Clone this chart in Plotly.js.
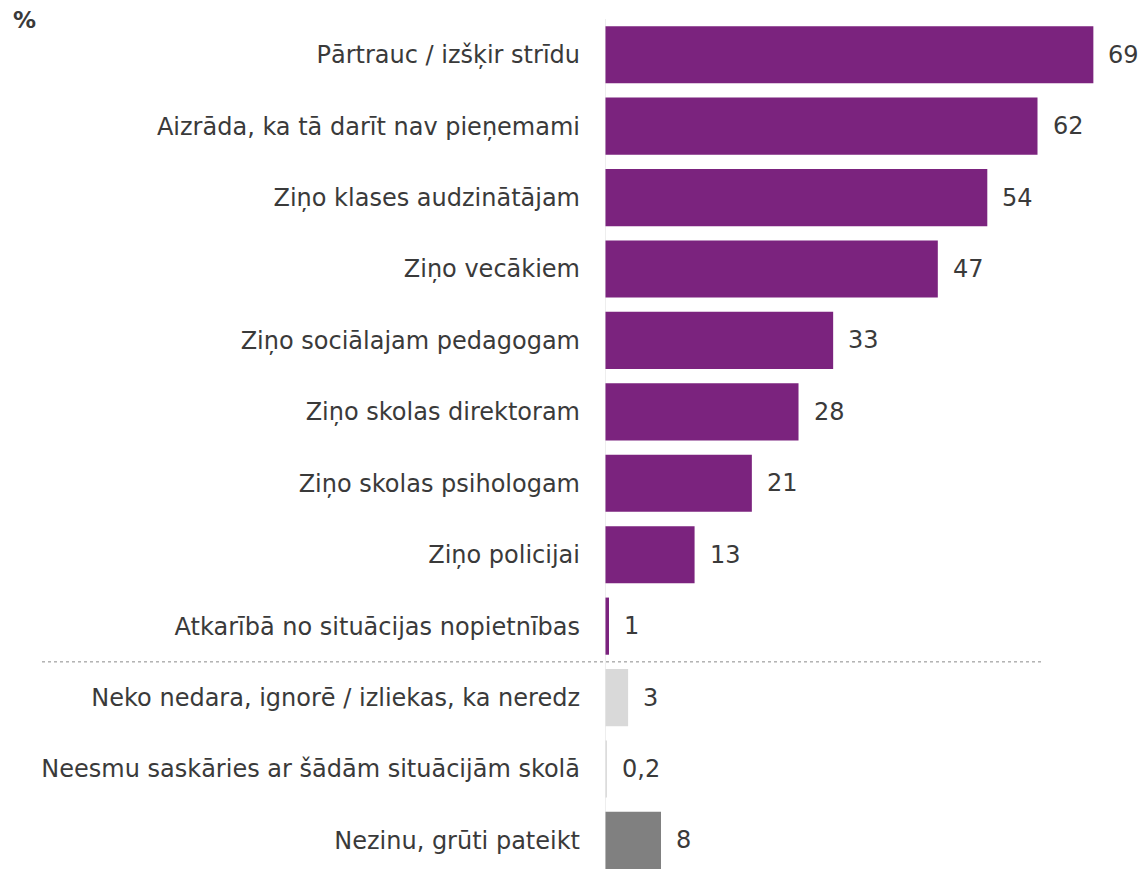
<!DOCTYPE html>
<html>
<head>
<meta charset="utf-8">
<script src="https://cdn.plot.ly/plotly-3.0.1.min.js"></script>
<style>html,body{margin:0;padding:0;background:#fff;}#chart{width:1142px;height:869px;}</style>
</head>
<body>
<div id="chart"></div>
<script>
const categories = [
  "Pārtrauc / izšķir strīdu",
  "Aizrāda, ka tā darīt nav pieņemami",
  "Ziņo klases audzinātājam",
  "Ziņo vecākiem",
  "Ziņo sociālajam pedagogam",
  "Ziņo skolas direktoram",
  "Ziņo skolas psihologam",
  "Ziņo policijai",
  "Atkarībā no situācijas nopietnības",
  "Neko nedara, ignorē / izliekas, ka neredz",
  "Neesmu saskāries ar šādām situācijām skolā",
  "Nezinu, grūti pateikt"
];
const values = [69, 61.1, 54, 47, 32.2, 27.3, 20.7, 12.6, 0.5, 3.2, 0.2, 7.85];
const valueLabels = ["69", "62", "54", "47", "33", "28", "21", "13", "1", "3", "0,2", "8"];
const barColors = ["#7b237e","#7b237e","#7b237e","#7b237e","#7b237e","#7b237e","#7b237e","#7b237e","#7b237e","#d9d9d9","#d9d9d9","#808080"];

const FONT = "DejaVu Sans, Verdana, sans-serif";
const TXT = "#3a3a3a";

const trace = {
  type: "bar",
  orientation: "h",
  y: categories,
  x: values,
  marker: {color: barColors, line: {width: 0}},
  hoverinfo: "skip",
  cliponaxis: false
};

const annotations = categories.map((c, i) => ({
  x: values[i], y: c, xref: "x", yref: "y",
  text: valueLabels[i], showarrow: false,
  xanchor: "left", yanchor: "middle", xshift: 13,
  font: {family: FONT, size: 24, color: TXT}
}));
annotations.push({
  x: -1.106, y: 1.0, xref: "paper", yref: "paper",
  text: "<b>%</b>", showarrow: false, xanchor: "left", yanchor: "middle", yshift: -1,
  font: {family: FONT, size: 23, color: TXT}
});

const layout = {
  width: 1142, height: 869,
  margin: {l: 605, r: 0, t: 19, b: 0, pad: 0},
  paper_bgcolor: "#fff", plot_bgcolor: "#fff",
  bargap: 0.2,
  showlegend: false,
  xaxis: {range: [-0.07, 75.88], showgrid: false, zeroline: false, showticklabels: false, ticks: "", showline: false, fixedrange: true},
  yaxis: {
    type: "category",
    range: [11.4, -0.5],
    showgrid: false, zeroline: false, showline: false,
    ticks: "", ticklabelstandoff: 24,
    tickfont: {family: FONT, size: 24, color: TXT},
    fixedrange: true
  },
  shapes: [
    {type: "line", xref: "x", yref: "paper", x0: -0.14, x1: -0.14, y0: 0, y1: 1, line: {color: "#dedede", width: 2}, layer: "below"},
    {type: "line", xref: "paper", yref: "y", x0: -1.0484, x1: 0.8156, y0: 8.5, y1: 8.5, line: {color: "#8a8a8a", width: 1, dash: "dot"}}
  ],
  annotations: annotations
};

Plotly.newPlot("chart", [trace], layout, {displayModeBar: false, staticPlot: true});
</script>
</body>
</html>
